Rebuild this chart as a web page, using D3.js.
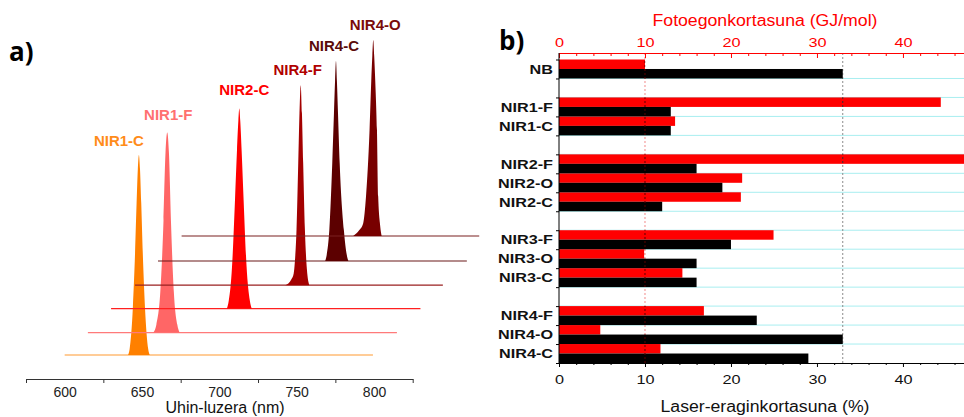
<!DOCTYPE html>
<html>
<head>
<meta charset="utf-8">
<script src="https://cdn.jsdelivr.net/npm/d3@7"></script>
<style>
    body { margin: 0; background: #fff; }
    svg { display: block; font-family: "Liberation Sans", Arial, sans-serif; }
</style>
</head>
<body>
<div id="chart-area"></div>
<script>
// ---- a) emission spectra (waterfall) ----
const spectraNames = ["NIR1-C", "NIR1-F", "NIR2-C", "NIR4-F", "NIR4-C", "NIR4-O"];
const peakNm = [648, 666.3, 712.9, 752.6, 775.4, 799.5];
const baseStartNm = [600, 615, 630, 645.5, 660.3, 675.6];
const baseEndNm = [799.3, 814.8, 830, 844.5, 860, 868];
const stackOffset = [0, 0.112, 0.232, 0.349, 0.47, 0.595];
const peakHeight = [1, 1, 1, 1, 1, 0.98];
// peak shape: [nm from peak, relative intensity]
const peakProfiles = [
    [[-7, 0], [-6, 0.03], [-3.9, 0.24], [-2.5, 0.51], [-1.5, 0.76], [-0.7, 0.93], [0, 1], [0.7, 0.93], [1.5, 0.76], [2.5, 0.51], [3.9, 0.24], [6, 0.03], [7, 0]],
    [[-9, 0], [-7, 0.04], [-4.5, 0.2], [-2.4, 0.56], [-1.1, 0.9], [0, 1], [1.1, 0.9], [2.4, 0.56], [4.3, 0.2], [6.5, 0.04], [8, 0]],
    [[-8, 0], [-6.8, 0.04], [-4.7, 0.21], [-2.8, 0.54], [-1.5, 0.79], [-0.6, 0.94], [0, 1], [0.6, 0.94], [1.5, 0.79], [2.8, 0.54], [4.7, 0.21], [6.8, 0.04], [8, 0]],
    [[-10, 0], [-6, 0.03], [-4.5, 0.06], [-3.5, 0.15], [-2.7, 0.28], [-1.6, 0.61], [-0.8, 0.86], [0, 1], [0.8, 0.86], [1.6, 0.61], [2.7, 0.28], [4, 0.08], [5.6, 0]],
    [[-7, 0], [-6, 0.03], [-4.3, 0.155], [-2.4, 0.49], [-1.3, 0.74], [-0.6, 0.9], [0, 1], [0.6, 0.9], [1.3, 0.74], [2.4, 0.49], [5.1, 0.155], [7, 0.03], [8, 0]],
    [[-13, 0], [-9, 0.03], [-6.5, 0.065], [-4.7, 0.2], [-2.4, 0.54], [-1.3, 0.79], [-0.6, 0.92], [0, 1], [0.6, 0.92], [1.3, 0.79], [2.4, 0.54], [3.2, 0.2], [4.5, 0.05], [5.4, 0]]
];
const wlLabels = [600, 650, 700, 750, 800];
const wlTicks = [575, 625, 675, 725, 775, 825];

const spectraColors = ["#ff8000", "#ff6666", "#ff0000", "#a30000", "#5c0000", "#780000"];
const baseColors = ["#ff9a30", "#ff7a7a", "#ff2020", "#9a2020", "#6a1818", "#7a2020"];
const labelColors = ["#ff8c1a", "#ff7070", "#ff0000", "#b00000", "#5a0a0a", "#7a0a0a"];
const labelNudge = [[-20, -14], [1, -18], [5, -19], [-3, -15], [-2, -15], [2, -15]];

// ---- b) efficiencies ----
const slots = ["NB", "g1", "NIR1-F", "NIR1-C", "g2", "NIR2-F", "NIR2-O", "NIR2-C",
    "g3", "NIR3-F", "NIR3-O", "NIR3-C", "g4", "NIR4-F", "NIR4-O", "NIR4-C"];
const categories = ["NB", "NIR1-F", "NIR1-C", "NIR2-F", "NIR2-O", "NIR2-C",
    "NIR3-F", "NIR3-O", "NIR3-C", "NIR4-F", "NIR4-O", "NIR4-C"];
const photonEnergy = [10, 44.4, 13.5, 50, 21.3, 21.15, 24.95, 9.9, 14.35, 16.85, 4.8, 11.8]; // GJ/mol
const laserEff = [33, 13, 13, 16, 19, 12, 20, 16, 16, 23, 33, 29]; // %
const effTicks = [0, 10, 20, 30, 40];
const effMinor = [2, 4, 6, 8, 12, 14, 16, 18, 22, 24, 26, 28, 32, 34, 36, 38, 42, 44, 46];

let svg = d3.select("#chart-area")
    .append("svg")
    .attr("width", 964)
    .attr("height", 417);

// ===== panel a =====
let x = d3.scaleLinear().domain([575, 825]).range([26, 412.7]);
let y = d3.scaleLinear().domain([0, 1]).range([355, 155]);

let area = d3.area()
    .x(d => x(d[0]))
    .y0(d => y(d[2]))
    .y1(d => y(d[2] + d[1]))
    .curve(d3.curveMonotoneX);
let line = d3.line()
    .x(d => x(d[0]))
    .y(d => y(d[1]))
    .curve(d3.curveLinear);

spectraNames.forEach(function (name, i) {
    let off = stackOffset[i];
    let pts = peakProfiles[i].map(p => [peakNm[i] + p[0], p[1] * peakHeight[i], off]);
    let g = svg.append("g").attr("class", "spectrum");
    g.append("path")
        .attr("d", line([[baseStartNm[i], off], [baseEndNm[i], off]]))
        .attr("fill", "none")
        .attr("stroke", baseColors[i])
        .attr("stroke-width", 1.2);
    g.append("path")
        .attr("d", area(pts))
        .attr("fill", spectraColors[i]);
    g.append("text")
        .attr("x", x(peakNm[i]) + labelNudge[i][0])
        .attr("y", y(off + peakHeight[i]) + labelNudge[i][1])
        .attr("dy", "0.35em")
        .attr("text-anchor", "middle")
        .attr("font-weight", "bold")
        .attr("font-size", 15)
        .attr("fill", labelColors[i])
        .text(name);
});

let axA = svg.append("g").attr("transform", "translate(0,379)");
axA.call(d3.axisBottom(x).tickValues(wlTicks).tickSize(4).tickSizeOuter(0).tickFormat(""));
axA.append("g").call(d3.axisBottom(x).tickValues(wlLabels).tickSize(0).tickPadding(8))
    .call(g => g.select(".domain").remove());
axA.selectAll("text").attr("font-size", 14).attr("fill", "#222")
    .attr("font-family", "Liberation Sans, Arial, sans-serif");
axA.selectAll("path, line").attr("stroke", "#333");

svg.append("text")
    .attr("x", 225).attr("y", 413)
    .attr("text-anchor", "middle")
    .attr("font-size", 16)
    .attr("fill", "#111")
    .text("Uhin-luzera (nm)");

svg.append("text")
    .attr("x", 9).attr("y", 61)
    .attr("font-family", "Open Sans, sans-serif")
    .attr("font-weight", "bold")
    .attr("font-size", 26)
    .text("a)");

// ===== panel b =====
let xb = d3.scaleLinear().domain([0, 47.1]).range([559, 964]);
let yb = d3.scaleBand().domain(slots).range([59.5, 363]);
let ybLin = d3.scaleLinear().domain([0, slots.length]).range([59.5, 363]);
let bw = yb.bandwidth();

// cyan gridlines at slot borders
svg.append("g").selectAll("line")
    .data(d3.range(1, slots.length))
    .enter().append("line")
    .attr("x1", 559).attr("x2", 964)
    .attr("y1", d => ybLin(d)).attr("y2", d => ybLin(d))
    .attr("stroke", "#a8eef0")
    .attr("stroke-width", 1);

let refs = [
    { v: photonEnergy[0], light: "#f28a8a", dark: "#5a0000" },
    { v: laserEff[0], light: "#8a8a8a", dark: "#333" }
];
svg.append("g").selectAll("line")
    .data(refs)
    .enter().append("line")
    .attr("x1", d => xb(d.v)).attr("x2", d => xb(d.v))
    .attr("y1", 53).attr("y2", 363)
    .attr("stroke", d => d.light)
    .attr("stroke-dasharray", "2,2");

let barData = categories.map((c, i) => ({ cat: c, energy: photonEnergy[i], eff: laserEff[i] }));

let clip = svg.append("clipPath").attr("id", "bars-clip");
let bars = svg.append("g");
[["energy", 0, "#ff0000"], ["eff", 1, "#000000"]].forEach(function (s) {
    bars.selectAll("rect." + s[0])
        .data(barData)
        .enter().append("rect")
        .attr("class", s[0])
        .attr("x", xb(0))
        .attr("y", d => yb(d.cat) + s[1] * bw / 2)
        .attr("width", d => xb(d[s[0]]) - xb(0))
        .attr("height", bw / 2)
        .attr("fill", s[2]);
    clip.selectAll("rect." + s[0])
        .data(barData)
        .enter().append("rect")
        .attr("class", s[0])
        .attr("x", xb(0))
        .attr("y", d => yb(d.cat) + s[1] * bw / 2)
        .attr("width", d => xb(d[s[0]]) - xb(0))
        .attr("height", bw / 2);
});

svg.append("g").attr("clip-path", "url(#bars-clip)")
    .selectAll("line")
    .data(refs)
    .enter().append("line")
    .attr("x1", d => xb(d.v)).attr("x2", d => xb(d.v))
    .attr("y1", 53).attr("y2", 363)
    .attr("stroke", d => d.dark)
    .attr("stroke-dasharray", "2,2");

// top axis (red)
let axTop = svg.append("g").attr("transform", "translate(0,53)");
axTop.call(d3.axisTop(xb).tickValues(effTicks).tickSizeInner(-5).tickSizeOuter(0).tickPadding(6));
axTop.append("g").call(d3.axisTop(xb).tickValues(effMinor).tickSize(-3).tickFormat(""))
    .call(g => g.select(".domain").remove());
axTop.selectAll("path, line").attr("stroke", "#ff0000");
axTop.selectAll("text").attr("fill", "#ff0000");

// bottom axis
let axBot = svg.append("g").attr("transform", "translate(0,363)");
axBot.call(d3.axisBottom(xb).tickValues(effTicks).tickSizeInner(4).tickSizeOuter(0).tickPadding(8));
axBot.append("g").call(d3.axisBottom(xb).tickValues(effMinor).tickSize(2).tickFormat(""))
    .call(g => g.select(".domain").remove());
axBot.selectAll("path, line").attr("stroke", "#000");
axBot.selectAll("text").attr("fill", "#111");

[axTop, axBot].forEach(function (a) {
    a.selectAll("text")
        .attr("font-size", 13)
        .attr("font-family", "Liberation Sans, Arial, sans-serif")
        .attr("transform", "scale(1.25,1)");
});

// left category axis
let axLeft = svg.append("g").attr("transform", "translate(559,0)");
axLeft.call(d3.axisLeft(ybLin).tickValues(d3.range(0, slots.length + 1)).tickSize(3).tickFormat(""))
    .call(g => g.select(".domain").remove());
axLeft.selectAll("line").attr("stroke", "#000");
svg.append("line")
    .attr("x1", 559).attr("x2", 559)
    .attr("y1", 53).attr("y2", 363)
    .attr("stroke", "#000");

svg.append("g").selectAll("text")
    .data(categories)
    .enter().append("text")
    .attr("transform", d => "translate(553," + (yb(d) + bw / 2) + ") scale(1.2,1)")
    .attr("dy", "0.35em")
    .attr("text-anchor", "end")
    .attr("font-weight", "bold")
    .attr("font-size", 13.5)
    .attr("fill", "#111")
    .text(d => d);

svg.append("text")
    .attr("x", 765).attr("y", 26)
    .attr("text-anchor", "middle")
    .attr("font-size", 16)
    .attr("textLength", 225)
    .attr("lengthAdjust", "spacingAndGlyphs")
    .attr("fill", "#ff0000")
    .text("Fotoegonkortasuna (GJ/mol)");

svg.append("text")
    .attr("x", 765).attr("y", 412)
    .attr("text-anchor", "middle")
    .attr("font-size", 16)
    .attr("textLength", 209)
    .attr("lengthAdjust", "spacingAndGlyphs")
    .attr("fill", "#111")
    .text("Laser-eraginkortasuna (%)");

svg.append("text")
    .attr("x", 499).attr("y", 50)
    .attr("font-family", "Open Sans, sans-serif")
    .attr("font-weight", "bold")
    .attr("font-size", 26)
    .text("b)");
</script>
</body>
</html>
